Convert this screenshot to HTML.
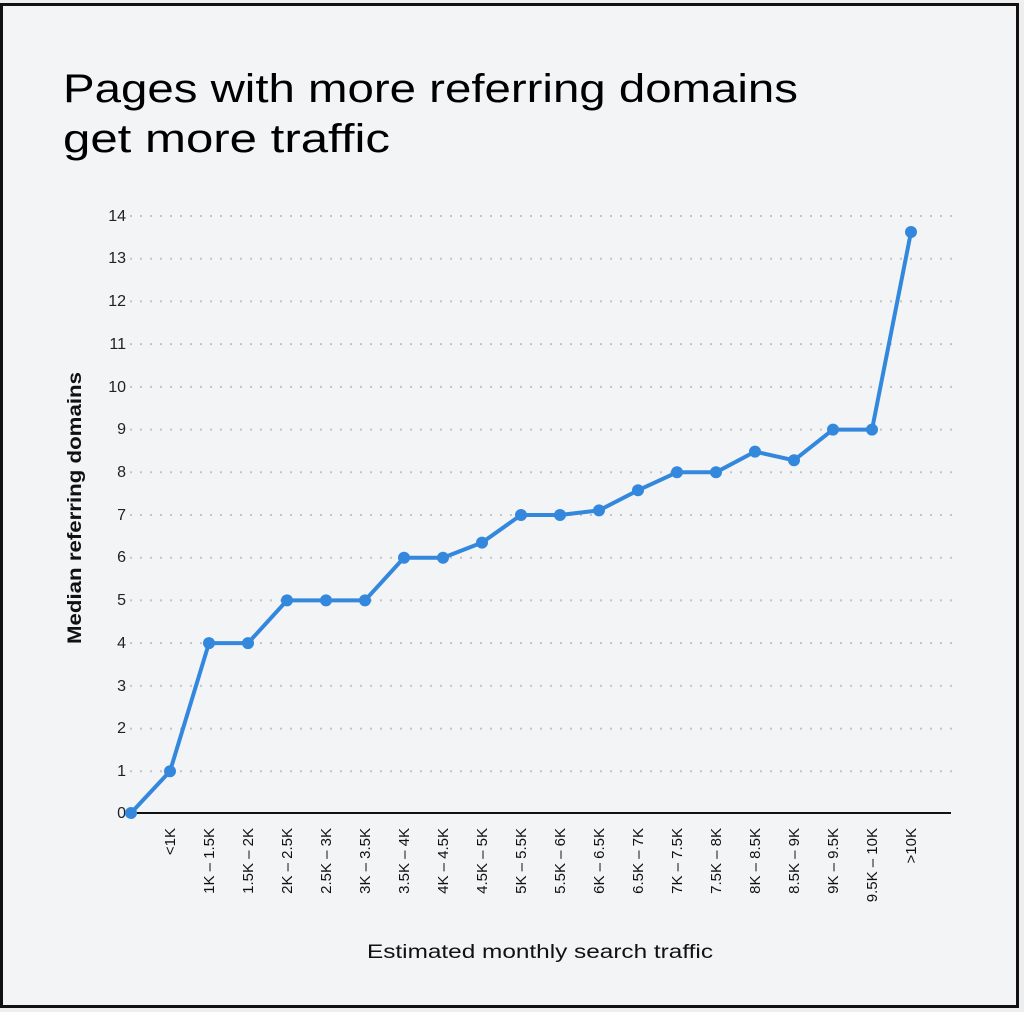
<!DOCTYPE html>
<html><head><meta charset="utf-8"><style>
html,body{margin:0;padding:0;background:#eeeeee;}
svg{display:block;}
</style></head><body>
<svg width="1024" height="1012" xmlns="http://www.w3.org/2000/svg" font-family="Liberation Sans, sans-serif">
<rect x="1.5" y="4.5" width="1016" height="1002" fill="#f3f4f6" stroke="#111" stroke-width="3"/>
<text x="63" y="102" font-size="40" fill="#000" textLength="735" lengthAdjust="spacingAndGlyphs">Pages with more referring domains</text>
<text x="63" y="152" font-size="40" fill="#000" textLength="327" lengthAdjust="spacingAndGlyphs">get more traffic</text>
<g stroke="#c4c4c4" stroke-width="2" stroke-dasharray="2,8">
<line x1="130" x2="952" y1="771.3" y2="771.3"/><line x1="130" x2="952" y1="728.6" y2="728.6"/>
<line x1="130" x2="952" y1="685.9" y2="685.9"/><line x1="130" x2="952" y1="643.1" y2="643.1"/>
<line x1="130" x2="952" y1="600.4" y2="600.4"/><line x1="130" x2="952" y1="557.7" y2="557.7"/>
<line x1="130" x2="952" y1="515" y2="515"/><line x1="130" x2="952" y1="472.3" y2="472.3"/>
<line x1="130" x2="952" y1="429.6" y2="429.6"/><line x1="130" x2="952" y1="386.9" y2="386.9"/>
<line x1="130" x2="952" y1="344.1" y2="344.1"/><line x1="130" x2="952" y1="301.4" y2="301.4"/>
<line x1="130" x2="952" y1="258.7" y2="258.7"/><line x1="130" x2="952" y1="216" y2="216"/>
</g>
<line x1="131" x2="951" y1="813" y2="813" stroke="#111" stroke-width="2"/>
<g font-size="16" fill="#222" text-anchor="end">
<text x="126" y="818">0</text><text x="126" y="776">1</text><text x="126" y="733">2</text><text x="126" y="691">3</text>
<text x="126" y="648">4</text><text x="126" y="605">5</text><text x="126" y="562">6</text><text x="126" y="520">7</text>
<text x="126" y="477">8</text><text x="126" y="434">9</text><text x="126" y="392">10</text><text x="126" y="349">11</text>
<text x="126" y="306">12</text><text x="126" y="263">13</text><text x="126" y="221">14</text>
</g>
<g font-size="15" fill="#111" text-anchor="end">
<text transform="translate(175,828) rotate(-90)">&lt;1K</text>
<text transform="translate(214,828) rotate(-90)">1K – 1.5K</text>
<text transform="translate(253,828) rotate(-90)">1.5K – 2K</text>
<text transform="translate(292,828) rotate(-90)">2K – 2.5K</text>
<text transform="translate(331,828) rotate(-90)">2.5K – 3K</text>
<text transform="translate(370,828) rotate(-90)">3K – 3.5K</text>
<text transform="translate(409,828) rotate(-90)">3.5K – 4K</text>
<text transform="translate(448,828) rotate(-90)">4K – 4.5K</text>
<text transform="translate(487,828) rotate(-90)">4.5K – 5K</text>
<text transform="translate(526,828) rotate(-90)">5K – 5.5K</text>
<text transform="translate(565,828) rotate(-90)">5.5K – 6K</text>
<text transform="translate(604,828) rotate(-90)">6K – 6.5K</text>
<text transform="translate(643,828) rotate(-90)">6.5K – 7K</text>
<text transform="translate(682,828) rotate(-90)">7K – 7.5K</text>
<text transform="translate(721,828) rotate(-90)">7.5K – 8K</text>
<text transform="translate(760,828) rotate(-90)">8K – 8.5K</text>
<text transform="translate(799,828) rotate(-90)">8.5K – 9K</text>
<text transform="translate(838,828) rotate(-90)">9K – 9.5K</text>
<text transform="translate(877,828) rotate(-90)">9.5K – 10K</text>
<text transform="translate(916,828) rotate(-90)">&gt;10K</text>
</g>
<text x="540" y="958" font-size="19" fill="#111" text-anchor="middle" textLength="346" lengthAdjust="spacingAndGlyphs">Estimated monthly search traffic</text>
<text transform="translate(81,508) rotate(-90)" font-size="19" fill="#111" font-weight="bold" text-anchor="middle" textLength="272" lengthAdjust="spacingAndGlyphs">Median referring domains</text>
<polyline fill="none" stroke="#3388dd" stroke-width="4" stroke-linejoin="round" points="131,813 170,771.3 209,643.1 248,643.1 287,600.4 326,600.4 365,600.4 404,557.7 443,557.7 482,542.6 521,515 560,515 599,510.4 638,490.3 677,472.3 716,472.3 755,451.6 794,460.3 833,429.6 872,429.6 911,232"/>
<g fill="#3388dd">
<circle cx="131" cy="813" r="6"/><circle cx="170" cy="771.3" r="6"/><circle cx="209" cy="643.1" r="6"/><circle cx="248" cy="643.1" r="6"/>
<circle cx="287" cy="600.4" r="6"/><circle cx="326" cy="600.4" r="6"/><circle cx="365" cy="600.4" r="6"/><circle cx="404" cy="557.7" r="6"/>
<circle cx="443" cy="557.7" r="6"/><circle cx="482" cy="542.6" r="6"/><circle cx="521" cy="515" r="6"/><circle cx="560" cy="515" r="6"/>
<circle cx="599" cy="510.4" r="6"/><circle cx="638" cy="490.3" r="6"/><circle cx="677" cy="472.3" r="6"/><circle cx="716" cy="472.3" r="6"/>
<circle cx="755" cy="451.6" r="6"/><circle cx="794" cy="460.3" r="6"/><circle cx="833" cy="429.6" r="6"/><circle cx="872" cy="429.6" r="6"/>
<circle cx="911" cy="232" r="6"/>
</g>
</svg>
</body></html>
